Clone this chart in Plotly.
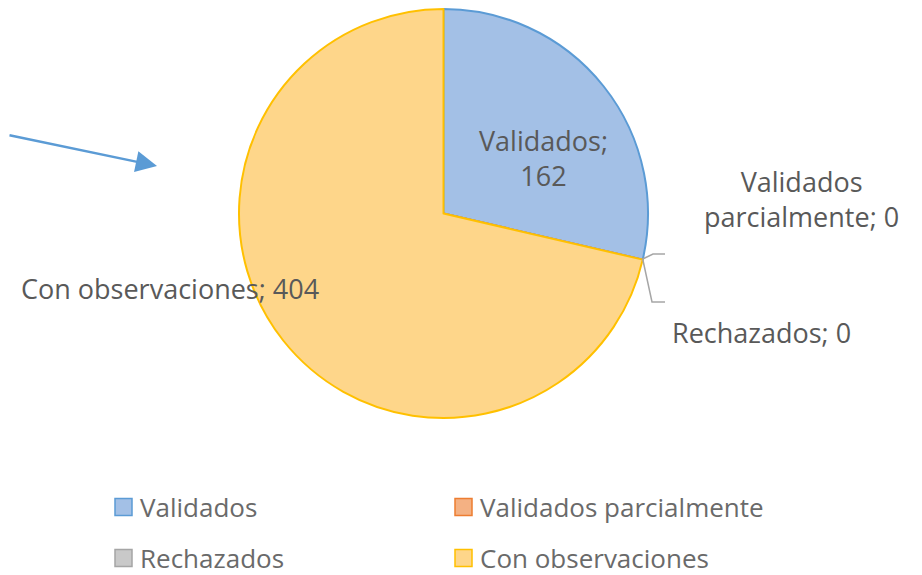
import plotly.graph_objects as go

# ---- data ----
categories = ["Validados", "Validados parcialmente", "Rechazados", "Con observaciones"]
values = [162, 0, 0, 404]
fill_colors = ["#a3c0e6", "#f4b183", "#c9c9c9", "#fed68a"]
line_colors = ["#5b9bd5", "#ed7d31", "#a5a5a5", "#ffc000"]

# page body has an 8px margin; work in page pixel coordinates
OFF = 8
W, H = 922 - OFF, 575 - OFF
FONT = "Open Sans, sans-serif"
TXT = "#595959"
FS = 27

def px(x):
    return (x - OFF) / W

def py(y):
    return 1 - (y - OFF) / H

cx, cy, r = 443.5, 213.5, 204.5

fig = go.Figure()
fig.add_trace(go.Pie(
    labels=categories,
    values=values,
    sort=False,
    direction="clockwise",
    rotation=0,
    textinfo="none",
    hoverinfo="label+value",
    showlegend=False,
    marker=dict(colors=fill_colors, line=dict(color=line_colors, width=2)),
    domain=dict(x=[px(cx - r), px(cx + r)], y=[py(cy + r), py(cy - r)]),
))

annotations = []
# data labels
label_pos = [(543, 158), (801, 199), (761, 332), (170, 288)]
label_text = [
    f"{categories[0]};<br>{values[0]}",
    "Validados<br>parcialmente; " + str(values[1]),
    f"{categories[2]}; {values[2]}",
    f"{categories[3]}; {values[3]}",
]
for (x, y), t in zip(label_pos, label_text):
    annotations.append(dict(x=px(x), y=py(y), xref="paper", yref="paper", text=t,
                            showarrow=False, xanchor="center", yanchor="middle",
                            font=dict(family=FONT, size=FS, color=TXT)))

# arrow
annotations.append(dict(x=px(157), y=py(166), xref="paper", yref="paper",
                        ax=-149, ay=-31, axref="pixel", ayref="pixel", text="",
                        showarrow=True, arrowhead=2, arrowsize=1.7, arrowwidth=2.5,
                        arrowcolor="#5b9bd5", standoff=0))

shapes = []
# leader lines for zero slices
lc = dict(color="#a6a6a6", width=1.5)
shapes.append(dict(type="path", xref="paper", yref="paper",
                   path=f"M {px(642.7)},{py(259)} L {px(653)},{py(254)} L {px(665)},{py(254)}", line=lc))
shapes.append(dict(type="path", xref="paper", yref="paper",
                   path=f"M {px(642.7)},{py(259)} L {px(652)},{py(302)} L {px(665)},{py(302)}", line=lc))

# legend
leg_pos = [(115, 507), (455, 507), (115, 558), (455, 558)]
for (x, y), name, fc, lcol in zip(leg_pos, categories, fill_colors, line_colors):
    shapes.append(dict(type="rect", xref="paper", yref="paper",
                       x0=px(x), x1=px(x + 17), y0=py(y + 8.5), y1=py(y - 8.5),
                       fillcolor=fc, line=dict(color=lcol, width=1.5)))
    annotations.append(dict(x=px(x + 24), y=py(y), xref="paper", yref="paper", text=name,
                            showarrow=False, xanchor="left", yanchor="middle", borderpad=0,
                            font=dict(family=FONT, size=26, color="#6a6a6a")))

fig.update_layout(
    width=W, height=H,
    margin=dict(l=0, r=0, t=0, b=0),
    paper_bgcolor="white", plot_bgcolor="white",
    annotations=annotations, shapes=shapes,
)

fig.write_html("out.html")
